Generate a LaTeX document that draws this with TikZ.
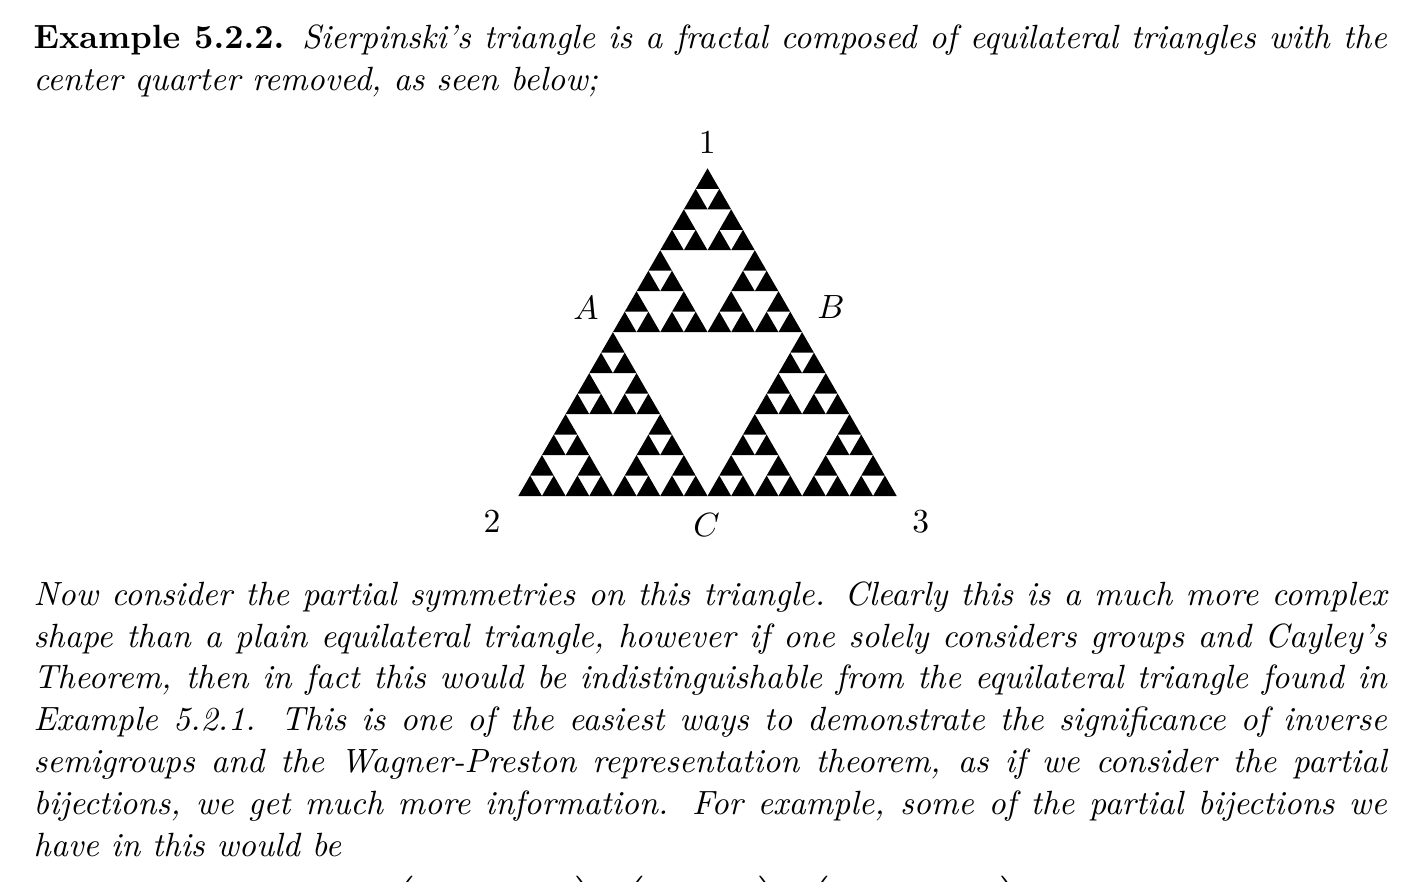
\documentclass[tikz,border=0pt]{standalone}
\usepackage{amsmath}
\usepackage{amssymb}
\usepackage{tikz}
\usetikzlibrary{positioning,calc}

\tikzset{
  txt/.style={anchor=base west, inner sep=0pt, text width=402.7pt, align=justify,
    font=\fontsize{10}{12.44}\selectfont},
  lbl/.style={inner sep=0pt, font=\fontsize{10}{12}\selectfont},
  paren/.style={anchor=north, inner sep=0pt}
}

\begin{document}
\begin{tikzpicture}[x=0.29762pt,y=-0.29762pt]
    \useasboundingbox (0,0) rectangle (1410,881);

    % Text above
    \node (head) at (33,48.3) [txt] {\textbf{Example 5.2.2.} \itshape Sierpinski's triangle is a fractal composed of equilateral triangles with the center quarter removed, as seen below;};

    % Sierpinski triangle
    \def\side{378.4}
    \begin{scope}[shift={(518.3,496)}]
    \foreach \ax/\ay in {0/0,1/0,0.5/0.866}
    \foreach \bx/\by in {0/0,1/0,0.5/0.866}
    \foreach \cx/\cy in {0/0,1/0,0.5/0.866}
    \foreach \dx/\dy in {0/0,1/0,0.5/0.866}
        \fill ({(\ax/2+\bx/4+\cx/8+\dx/16)*\side},{-(\ay/2+\by/4+\cy/8+\dy/16)*\side})
            -- ++(\side/16,0) -- ++(-\side/32,-0.866*\side/16) -- cycle;
    \end{scope}

    % Labels
    \node (v1) at (707.3,143) [lbl] {$1$};
    \node (mA) at (586,308) [lbl] {$A$};
    \node (mB) at (831,307) [lbl] {$B$};
    \node (v2) at (492,522) [lbl] {$2$};
    \node (mC) at (706.7,525) [lbl] {$C$};
    \node (v3) at (920.7,522) [lbl] {$3$};

    % Text below
    \node (body) at (33,605.2) [txt] {\itshape Now consider the partial symmetries on this triangle. Clearly this is a much more complex\linebreak
    shape than a plain equilateral triangle, however if one solely considers groups and Cayley's\linebreak
    Theorem, then in fact this would be indistinguishable from the equilateral triangle found in\linebreak
    Example 5.2.1. This is one of the easiest ways to demonstrate the significance of inverse\linebreak
    semigroups and the Wagner-Preston representation theorem, as if we consider the partial\linebreak
    bijections, we get much more information. For example, some of the partial bijections we\linebreak
    have in this would be};

    % Partial bijections (cut off)
    \node (pa) at (495,875) [paren] {$\left(\vrule height 14pt depth 14pt width 0pt\hspace{48pt}\right)$};
    \node (pb) at (701,875) [paren] {$\left(\vrule height 14pt depth 14pt width 0pt\hspace{34pt}\right)$};
    \node (pc) at (914.5,875) [paren] {$\left(\vrule height 14pt depth 14pt width 0pt\hspace{51pt}\right)$};
\end{tikzpicture}
\end{document}
